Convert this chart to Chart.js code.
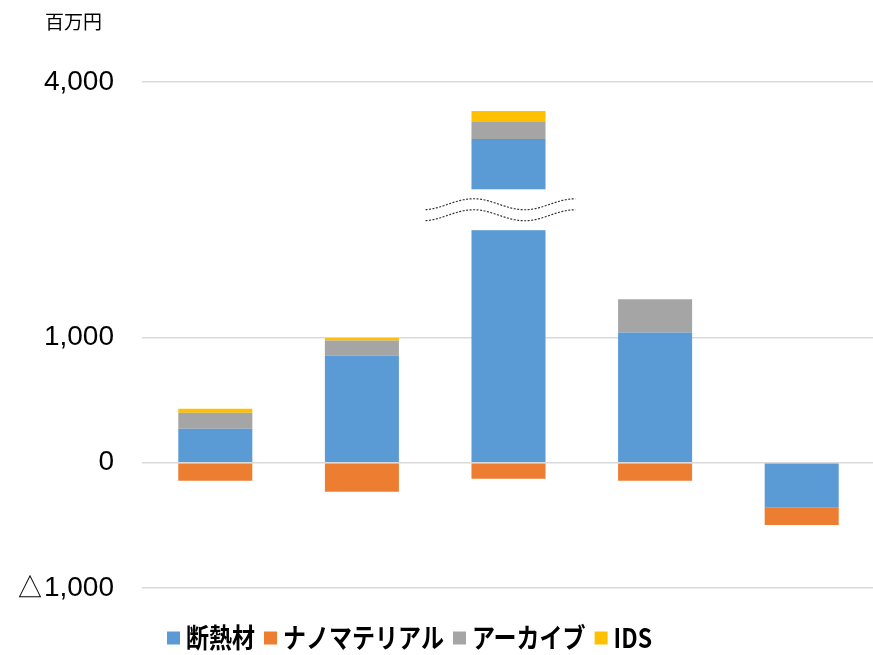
<!DOCTYPE html>
<html lang="ja">
<head>
<meta charset="utf-8">
<script src="https://cdn.jsdelivr.net/npm/chart.js@4"></script>
<style>
  html, body { margin: 0; padding: 0; background: #fff; overflow: hidden; }
  #wrap { position: relative; width: 880px; height: 655px; }
</style>
</head>
<body>
<div id="wrap"><canvas id="chart"></canvas></div>
<script>
// 区分（横軸ラベルは表示なし）
const categories = ['A', 'B', 'C', 'D', 'E'];
// 系列（百万円）
const seriesNames = ['断熱材', 'ナノマテリアル', 'アーカイブ', 'IDS'];
const insulation = [272, 856, 3330, 1060, -360];
const nanomaterial = [-144, -232, -128, -144, -136];
const archive = [128, 120, 200, 388, 0];
const ids = [32, 20, 130, 0, 0];
const colors = ['#5B9BD5', '#ED7D31', '#A5A5A5', '#FFC000'];
// 縦軸の目盛
const tickValues = [-1000, 0, 1000, 4000];
const tickLabels = ['△1,000', '0', '1,000', '4,000'];
// 1,000より上は縮めて描く。3本目の棒は省略線で切る
const breakValue = 1000;
const upperRatio = 0.68;
const cutRange = [2260, 2740];
const cutBar = 2;

function toAxis(v) {
  return v <= breakValue ? v : breakValue + (v - breakValue) * upperRatio;
}

// 積み上げの各段を表示用の高さに直す
const rawSeries = [insulation, nanomaterial, archive, ids];
const posTop = categories.map(() => 0);
const shownSeries = rawSeries.map(values => values.map((v, i) => {
  if (v < 0) return v;
  const from = posTop[i];
  posTop[i] += v;
  return toAxis(posTop[i]) - toAxis(from);
}));

const unitLabel = {
  id: 'unitLabel',
  afterDraw(chart) {
    const ctx = chart.ctx;
    ctx.save();
    ctx.fillStyle = '#000';
    ctx.font = '19px "Noto Sans CJK JP"';
    ctx.textBaseline = 'middle';
    ctx.fillText('百万円', 45, 22);
    ctx.restore();
  }
};

const breakMarks = {
  id: 'breakMarks',
  afterDatasetsDraw(chart) {
    const ctx = chart.ctx;
    const bar = chart.getDatasetMeta(0).data[cutBar];
    const y = chart.scales.y;
    const top = y.getPixelForValue(toAxis(cutRange[1]));
    const bottom = y.getPixelForValue(toAxis(cutRange[0]));
    const mid = (top + bottom) / 2;
    const x0 = bar.x - 83, x1 = bar.x + 67;
    const wave = (x, off) => mid + off - 5.5 * Math.sin(2 * Math.PI * (x - (bar.x - 60.5)) / 102);

    ctx.save();
    ctx.fillStyle = '#fff';
    ctx.fillRect(bar.x - bar.width / 2 - 1, top, bar.width + 2, bottom - top);
    ctx.beginPath();
    for (let x = x0; x <= x1; x++) ctx.lineTo(x, wave(x, -5.5));
    for (let x = x1; x >= x0; x--) ctx.lineTo(x, wave(x, 5.5));
    ctx.closePath();
    ctx.fill();

    ctx.strokeStyle = '#333';
    ctx.lineWidth = 1.2;
    ctx.setLineDash([2, 1.5]);
    [-5.5, 5.5].forEach(off => {
      ctx.beginPath();
      for (let x = x0; x <= x1; x++) ctx.lineTo(x, wave(x, off));
      ctx.stroke();
    });
    ctx.restore();
  }
};

const bottomLegend = {
  id: 'bottomLegend',
  afterDraw(chart) {
    const ctx = chart.ctx;
    let x = 167;
    const yc = 638;
    ctx.save();
    ctx.font = 'bold 23px "Noto Sans CJK JP"';
    ctx.textBaseline = 'middle';
    seriesNames.forEach((name, i) => {
      ctx.fillStyle = colors[i];
      ctx.fillRect(x, yc - 6.5, 13, 13);
      x += 19;
      ctx.fillStyle = '#000';
      ctx.save();
      ctx.translate(x, yc);
      ctx.scale(1, 1.18);
      ctx.fillText(name, 0, 0);
      ctx.restore();
      x += ctx.measureText(name).width + 9;
    });
    ctx.restore();
  }
};

new Chart(document.getElementById('chart'), {
  type: 'bar',
  data: {
    labels: categories,
    datasets: shownSeries.map((values, i) => ({
      label: seriesNames[i],
      data: values,
      backgroundColor: colors[i],
      borderWidth: 0,
      barPercentage: 1,
      categoryPercentage: 0.505
    }))
  },
  options: {
    responsive: true,
    maintainAspectRatio: false,
    animation: false,
    layout: { padding: { top: 82, bottom: 67, left: 0, right: 5 } },
    plugins: {
      legend: { display: false },
      tooltip: { enabled: false }
    },
    scales: {
      x: { stacked: true, display: false },
      y: {
        stacked: true,
        min: toAxis(tickValues[0]),
        max: toAxis(tickValues[tickValues.length - 1]),
        border: { display: false },
        grid: { color: '#d9d9d9', lineWidth: 1.5, drawTicks: false },
        afterBuildTicks(scale) {
          scale.ticks = tickValues.map(v => ({ value: toAxis(v) }));
        },
        afterFit(scale) { scale.width = 142; },
        ticks: {
          autoSkip: false,
          padding: 28,
          color: '#000',
          font: { family: '"Liberation Sans", Arial, sans-serif', size: 28 },
          callback: (value) => {
            const k = tickValues.findIndex(v => toAxis(v) === value);
            return k >= 0 ? tickLabels[k] : '';
          }
        }
      }
    }
  },
  plugins: [unitLabel, breakMarks, bottomLegend]
});
</script>
</body>
</html>
